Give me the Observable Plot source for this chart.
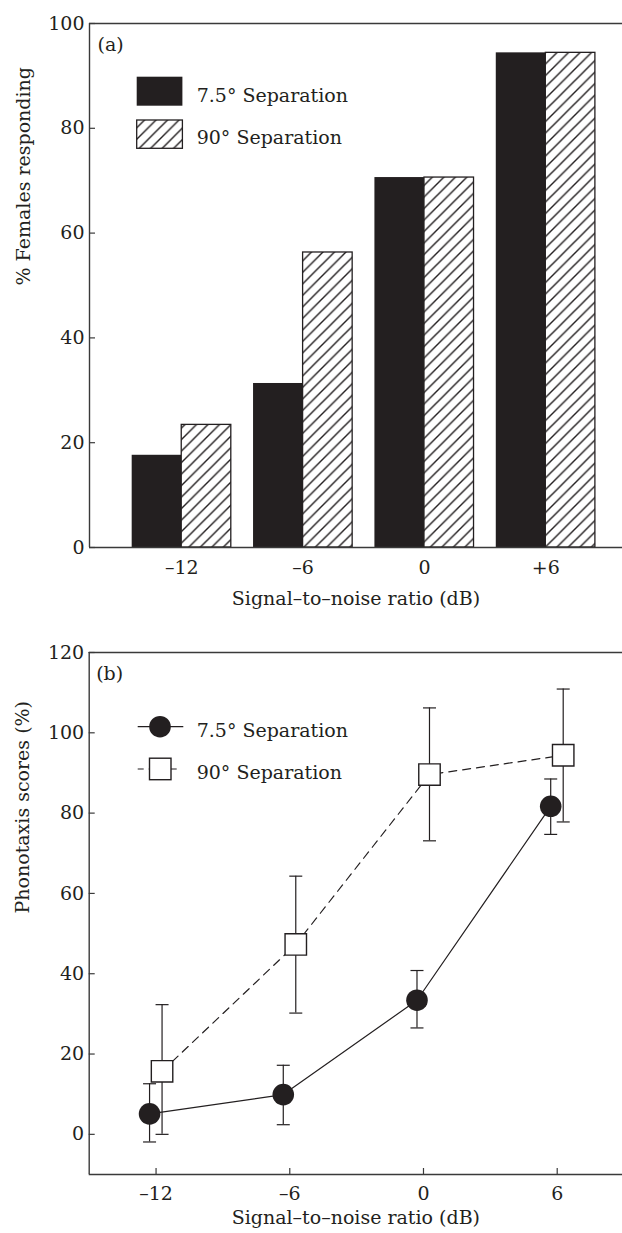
<!DOCTYPE html>
<html><head><meta charset="utf-8">
<script src="https://cdn.jsdelivr.net/npm/d3@7"></script>
<script src="https://cdn.jsdelivr.net/npm/@observablehq/plot@0.6"></script>
<style>
body{margin:0;background:#fff;overflow:hidden;}
#wrap{width:622px;}
#wrap svg{display:block;}
</style></head><body><div id="wrap"></div>
<script>
// ---------- Data ----------
const snrA = [-12, -6, 0, 6];
const snrLabelsA = ["–12", "–6", "0", "+6"];
const pct75 = [17.6, 31.3, 70.6, 94.4];
const pct90 = [23.4, 56.3, 70.6, 94.4];
const yTicksA = [0, 20, 40, 60, 80, 100];

const snrB = [-12, -6, 0, 6];
const snrLabelsB = ["–12", "–6", "0", "6"];
const score75 = [5.1, 9.9, 33.4, 81.7];
const lo75 = [-1.9, 2.4, 26.5, 74.7];
const hi75 = [12.6, 17.2, 40.8, 88.5];
const score90 = [15.7, 47.3, 89.6, 94.4];
const lo90 = [0, 30.2, 73.1, 77.8];
const hi90 = [32.3, 64.3, 106.2, 110.9];
const yTicksB = [0, 20, 40, 60, 80, 100, 120];

const seriesNames = ["7.5° Separation", "90° Separation"];
const xTitle = "Signal–to–noise ratio (dB)";
const yTitleA = "% Females responding";
const yTitleB = "Phonotaxis scores (%)";

// ---------- Style ----------
const INK = "#231f20";
const AX = "#3a3a3a";
const FONT = "DejaVu Serif";
const FS = 19;
const W = 622;

const tabA = snrA.map((s, i) => ({snr: s, p75: pct75[i], p90: pct90[i]}));
const tabB = snrB.map((s, i) => ({snr: s, s75: score75[i], l75: lo75[i], h75: hi75[i], s90: score90[i], l90: lo90[i], h90: hi90[i]}));

const BW = 2.45; // bar width in dB units
const capSym = {draw(ctx) { ctx.moveTo(-6.5, 0); ctx.lineTo(6.5, 0); }};

// ---------- Panel (a) ----------
const mlA = 89, mtA = 23, mbA = 68, hA = 615;
const xDomA = [-16.56, 9.79];
const plotWA = W - mlA;
const chartA = Plot.plot({
  width: W, height: hA,
  marginLeft: mlA, marginRight: 0, marginTop: mtA, marginBottom: mbA,
  style: {fontFamily: FONT, fontSize: FS + "px", color: INK, background: "white", overflow: "visible"},
  x: {domain: xDomA},
  y: {domain: [0, 100]},
  marks: [
    Plot.rectY(tabA, {x1: d => d.snr - BW, x2: "snr", y: "p75", fill: INK}),
    Plot.rectY(tabA, {x1: "snr", x2: d => d.snr + BW, y: "p90", fill: "url(#hatchA)", stroke: INK, strokeWidth: 1.3}),
    Plot.ruleY([100], {stroke: AX, strokeWidth: 1.4}),
    Plot.ruleY([0], {stroke: AX, strokeWidth: 1.4}),
    Plot.ruleX([xDomA[0]], {stroke: AX, strokeWidth: 1.4}),
    Plot.tickY(yTicksA, {y: d => d, insetRight: plotWA - 6, stroke: AX, strokeWidth: 1.2}),
    Plot.axisY({ticks: yTicksA, tickSize: 0, tickPadding: 5, label: null, fontSize: FS}),
    Plot.axisX({ticks: snrA, tickFormat: d => snrLabelsA[snrA.indexOf(d)], tickSize: 0, tickPadding: 13, label: null, fontSize: FS}),
    Plot.text(["(a)"], {text: d => d, frameAnchor: "top-left", dx: 8, dy: 27.7, lineAnchor: "bottom", textAnchor: "start", fontSize: FS}),
    Plot.text([xTitle], {text: d => d, frameAnchor: "bottom", dy: 57, lineAnchor: "bottom", fontSize: FS}),
    Plot.text([yTitleA], {text: d => d, frameAnchor: "left", dx: -60, rotate: -90, lineAnchor: "bottom", fontSize: FS})
  ]
});

// ---------- Panel (b) ----------
const mlB = 88.7, mtB = 37, mbB = 59, hB = 618;
const xDomB = [-15, 8.93];
const yDomB = [-10, 120];
const plotWB = W - mlB;
const plotHB = hB - mtB - mbB;
const chartB = Plot.plot({
  width: W, height: hB,
  marginLeft: mlB, marginRight: 0, marginTop: mtB, marginBottom: mbB,
  style: {fontFamily: FONT, fontSize: FS + "px", color: INK, background: "white", overflow: "visible"},
  x: {domain: xDomB},
  y: {domain: yDomB},
  marks: [
    Plot.ruleY([yDomB[1]], {stroke: AX, strokeWidth: 1.4}),
    Plot.ruleY([yDomB[0]], {stroke: AX, strokeWidth: 1.4}),
    Plot.ruleX([xDomB[0]], {stroke: AX, strokeWidth: 1.4}),
    Plot.tickY(yTicksB, {y: d => d, insetRight: plotWB - 6, stroke: AX, strokeWidth: 1.2}),
    Plot.tickX(snrB, {x: d => d, insetTop: plotHB - 6, stroke: AX, strokeWidth: 1.2}),
    Plot.axisY({ticks: yTicksB, tickSize: 0, tickPadding: 5, label: null, fontSize: FS}),
    Plot.axisX({ticks: snrB, tickFormat: d => snrLabelsB[snrB.indexOf(d)], tickSize: 0, tickPadding: 12, label: null, fontSize: FS}),
    Plot.line(tabB, {x: "snr", y: "s75", dx: -6.5, stroke: INK, strokeWidth: 1.2}),
    Plot.line(tabB, {x: "snr", y: "s90", dx: 6, stroke: INK, strokeWidth: 1.2, strokeDasharray: "8,6"}),
    Plot.ruleX(tabB, {x: "snr", y1: "l75", y2: "h75", dx: -6.5, stroke: INK, strokeWidth: 1.2}),
    Plot.dot(tabB, {x: "snr", y: "l75", dx: -6.5, symbol: capSym, stroke: INK, strokeWidth: 1.2}),
    Plot.dot(tabB, {x: "snr", y: "h75", dx: -6.5, symbol: capSym, stroke: INK, strokeWidth: 1.2}),
    Plot.ruleX(tabB, {x: "snr", y1: "l90", y2: "h90", dx: 6, stroke: INK, strokeWidth: 1.2}),
    Plot.dot(tabB, {x: "snr", y: "l90", dx: 6, symbol: capSym, stroke: INK, strokeWidth: 1.2}),
    Plot.dot(tabB, {x: "snr", y: "h90", dx: 6, symbol: capSym, stroke: INK, strokeWidth: 1.2}),
    Plot.dot(tabB, {x: "snr", y: "s90", dx: 6, symbol: "square", r: 12.1, fill: "white", stroke: INK, strokeWidth: 1.4}),
    Plot.dot(tabB, {x: "snr", y: "s75", dx: -6.5, r: 10.8, fill: INK, stroke: "none"}),
    Plot.text(["(b)"], {text: d => d, frameAnchor: "top-left", dx: 7, dy: 27, lineAnchor: "bottom", textAnchor: "start", fontSize: FS}),
    Plot.text([xTitle], {text: d => d, frameAnchor: "bottom", dy: 49.3, lineAnchor: "bottom", fontSize: FS}),
    Plot.text([yTitleB], {text: d => d, frameAnchor: "left", dx: -60, rotate: -90, lineAnchor: "bottom", fontSize: FS})
  ]
});

// hatch pattern
const hw = 11.5;
d3.select(chartA).insert("defs", ":first-child").html(
  `<pattern id="hatchA" patternUnits="userSpaceOnUse" width="${hw}" height="${hw}">
     <rect width="${hw}" height="${hw}" fill="white"/>
     <path d="M-1,1 L1,-1 M0,${hw} L${hw},0 M${hw-1},${hw+1} L${hw+1},${hw-1}" stroke="${INK}" stroke-width="1.4"/>
   </pattern>`);

// legend (a)
const la = d3.select(chartA).append("g").attr("font-family", FONT).attr("font-size", FS).attr("fill", INK).attr("text-anchor", "start");
la.append("rect").attr("x", 136.7).attr("y", 76.7).attr("width", 45.7).attr("height", 29).attr("fill", INK);
la.append("rect").attr("x", 136.7).attr("y", 120).attr("width", 45.7).attr("height", 28.3).attr("fill", "url(#hatchA)").attr("stroke", INK).attr("stroke-width", 1.3);
la.append("text").attr("x", 196.7).attr("y", 101.7).attr("text-anchor", "start").text(seriesNames[0]);
la.append("text").attr("x", 196.7).attr("y", 144).attr("text-anchor", "start").text(seriesNames[1]);

// legend (b)
const lb = d3.select(chartB).append("g").attr("font-family", FONT).attr("font-size", FS).attr("fill", INK).attr("text-anchor", "start");
lb.append("line").attr("x1", 137.7).attr("x2", 183.3).attr("y1", 111.7).attr("y2", 111.7).attr("stroke", INK).attr("stroke-width", 1.2);
lb.append("circle").attr("cx", 160).attr("cy", 111.7).attr("r", 10.8).attr("fill", INK);
lb.append("line").attr("x1", 137.7).attr("x2", 181).attr("y1", 154).attr("y2", 154).attr("stroke", INK).attr("stroke-width", 1.2).attr("stroke-dasharray", "6,5");
lb.append("rect").attr("x", 149.5).attr("y", 143.2).attr("width", 21.5).attr("height", 21.5).attr("fill", "white").attr("stroke", INK).attr("stroke-width", 1.4);
lb.append("text").attr("x", 196.7).attr("y", 121.7).attr("text-anchor", "start").text(seriesNames[0]);
lb.append("text").attr("x", 196.7).attr("y", 164.3).attr("text-anchor", "start").text(seriesNames[1]);

document.getElementById("wrap").append(chartA, chartB);
</script></body></html>
